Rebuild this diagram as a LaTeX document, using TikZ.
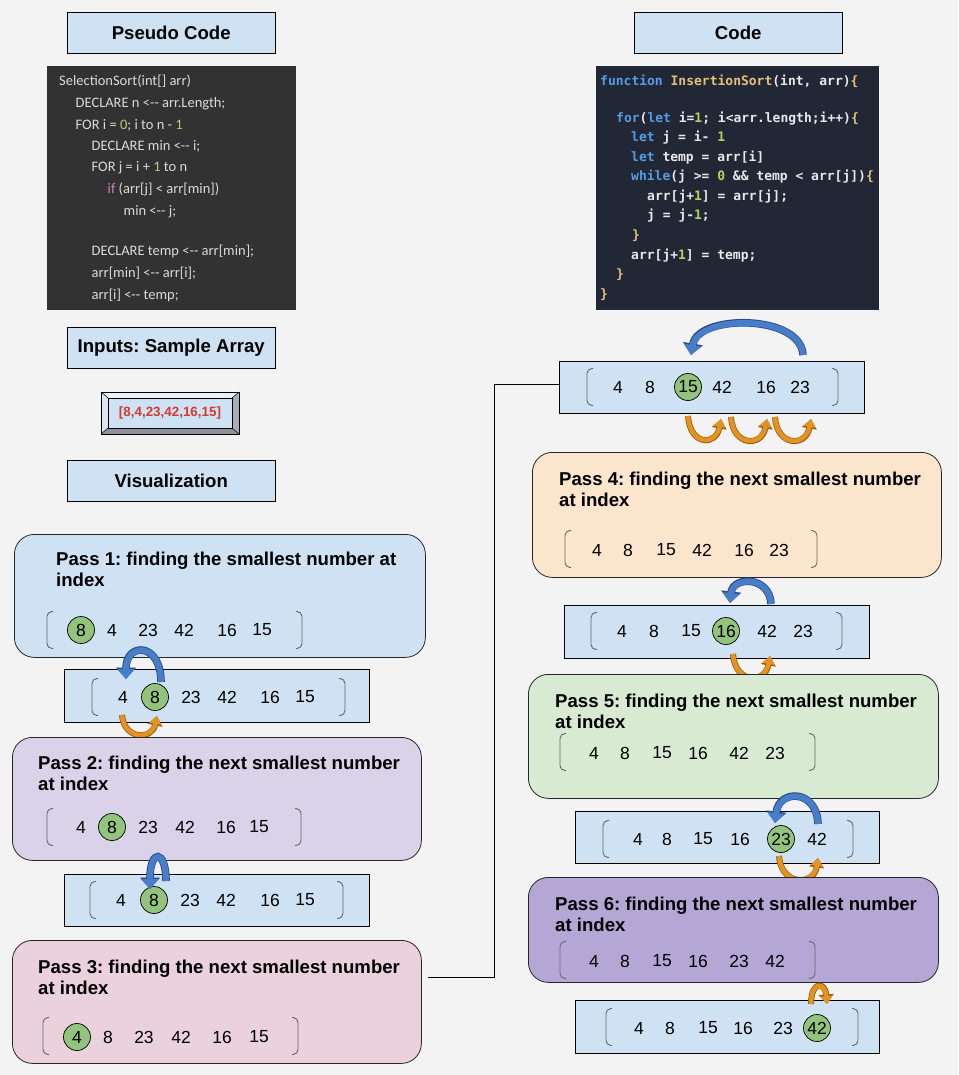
\documentclass[tikz,border=0pt]{standalone}
\usepackage{fontspec}
\setmainfont{Liberation Sans}
\newfontfamily\pseudofont{Carlito}
\newfontfamily\codefont{DejaVu Sans Mono}
\usetikzlibrary{arrows.meta}
\frenchspacing

\definecolor{bg}{RGB}{243,243,243}
\definecolor{tilefill}{RGB}{207,226,243}
\definecolor{lavfill}{RGB}{217,210,233}
\definecolor{pinkfill}{RGB}{234,209,220}
\definecolor{peachfill}{RGB}{252,229,205}
\definecolor{mintfill}{RGB}{217,234,211}
\definecolor{violetfill}{RGB}{180,167,214}
\definecolor{ballgreen}{RGB}{147,196,125}
\definecolor{arrblue}{RGB}{72,125,200}
\definecolor{arrblueD}{RGB}{40,75,135}
\definecolor{arrorange}{RGB}{228,146,32}
\definecolor{arrorangeD}{RGB}{150,90,15}
\definecolor{pseudobg}{RGB}{50,50,50}
\definecolor{pseudotext}{RGB}{218,218,218}
\definecolor{pseudonum}{RGB}{181,206,120}
\definecolor{pseudokw}{RGB}{197,134,192}
\definecolor{codebg}{RGB}{34,39,53}
\definecolor{codetext}{RGB}{232,232,236}
\definecolor{codekw}{RGB}{84,156,230}
\definecolor{codefn}{RGB}{229,192,123}
\definecolor{codenum}{RGB}{175,212,90}
\definecolor{samplered}{RGB}{212,58,48}
\definecolor{bevtop}{RGB}{236,241,247}
\definecolor{bevleft}{RGB}{220,229,238}
\definecolor{bevbottom}{RGB}{140,146,153}
\definecolor{bevright}{RGB}{168,174,181}

\newcommand\ckw[1]{\textcolor{codekw}{#1}}
\newcommand\cfn[1]{\textcolor{codefn}{#1}}
\newcommand\cnum[1]{\textcolor{codenum}{#1}}
\newcommand\pnum[1]{\textcolor{pseudonum}{#1}}
\newcommand\pkw[1]{\textcolor{pseudokw}{#1}}
\newcommand\larrow{<-\kern0pt-}

\tikzset{
  titlebox/.style={draw=black, fill=tilefill, minimum width=208pt, minimum height=41pt,
    anchor=north west, inner sep=0pt, font=\fontsize{18.6pt}{22pt}\selectfont\bfseries},
  passbox/.style={draw=black!85, line width=0.8pt, rounded corners=20pt, anchor=north west, inner sep=0pt},
  rowbox/.style={draw=black, line width=0.8pt, fill=tilefill, anchor=north west, inner sep=0pt},
  ptitle/.style={anchor=base west, inner sep=0pt, font=\fontsize{18.6pt}{22pt}\selectfont\bfseries},
  num/.style={inner sep=0pt, font=\fontsize{17.5pt}{20pt}\selectfont},
  ball/.style={circle, draw=black, line width=0.7pt, fill=ballgreen, minimum size=27pt, inner sep=0pt,
    font=\fontsize{17.5pt}{20pt}\selectfont},
  brk/.style={draw=black!60, line width=0.9pt, rounded corners=5pt},
  lbr/.pic={\draw[brk] (6,-18.5) -- (0,-18.5) -- (0,18.5) -- (6,18.5);},
  rbr/.pic={\draw[brk] (-6,-18.5) -- (0,-18.5) -- (0,18.5) -- (-6,18.5);},
  pcode/.style={anchor=base west, inner sep=0pt, text=pseudotext,
    font=\pseudofont\fontsize{14.5pt}{17pt}\selectfont},
  ccode/.style={anchor=base west, inner sep=0pt, text=codetext,
    font=\codefont\bfseries\fontsize{13pt}{16pt}\selectfont},
  barr/.style={draw=arrblue, line width=6pt, -{Triangle[width=17pt,length=10pt]},
    preaction={draw=arrblueD, line width=7.6pt, -{Triangle[width=19.5pt,length=11.5pt]}}},
  oarr/.style={draw=arrorange, line width=4.5pt, -{Triangle[width=12pt,length=8pt]},
    preaction={draw=arrorangeD, line width=6pt, -{Triangle[width=14.5pt,length=9.5pt]}}},
  conn/.style={draw=black, line width=0.8pt},
}

\begin{document}
\begin{tikzpicture}[x=1pt,y=-1pt]
  % canvas
  \fill[bg] (0,0) rectangle (958,1075);
  \useasboundingbox (0,0) rectangle (958,1075);

  % section titles
  \node[titlebox] (tpseudo) at (67,12) {Pseudo Code};
  \node[titlebox] (tcode) at (634,12) {Code};
  \node[titlebox] (tinputs) at (67,327) {Inputs: Sample Array};
  \node[titlebox] (tvis) at (67,460) {Visualization};

  % pseudo code panel
  \fill[pseudobg] (47,66) rectangle (296,310);
  \node[pcode] (ps1) at (59,85.5) {SelectionSort(int[] arr)};
  \node[pcode] (ps2) at (75.5,107.5) {DECLARE n \larrow{} arr.Length;};
  \node[pcode] (ps3) at (75.5,129.5) {FOR i = \pnum{0}; i to n - \pnum{1}};
  \node[pcode] (ps4) at (91.5,151) {DECLARE min \larrow{} i;};
  \node[pcode] (ps5) at (91.5,172) {FOR j = i + \pnum{1} to n};
  \node[pcode] (ps6) at (107.5,193.5) {\pkw{if} (arr[j] < arr[min])};
  \node[pcode] (ps7) at (123.5,215) {min \larrow{} j;};
  \node[pcode] (ps8) at (91.5,255.5) {DECLARE temp \larrow{} arr[min];};
  \node[pcode] (ps9) at (91.5,277) {arr[min] \larrow{} arr[i];};
  \node[pcode] (ps10) at (91.5,299.5) {arr[i] \larrow{} temp;};

  % code panel
  \fill[codebg] (596,66) rectangle (879,310);
  \node[ccode] (cd1) at (600,85.5) {\ckw{function} \cfn{InsertionSort}(int, arr)\cfn{\{}};
  \node[ccode] (cd2) at (616,122.3) {\ckw{for}(\ckw{let} i=\cnum{1}; i<arr.length;i++)\cfn{\{}};
  \node[ccode] (cd3) at (631,142) {\ckw{let} j = i- \cnum{1}};
  \node[ccode] (cd4) at (631,161.5) {\ckw{let} temp = arr[i]};
  \node[ccode] (cd5) at (631,181) {\ckw{while}(j >= \cnum{0} \&\& temp < arr[j])\cfn{\{}};
  \node[ccode] (cd6) at (647,200.5) {arr[j+\cnum{1}] = arr[j];};
  \node[ccode] (cd7) at (647,220) {j = j-\cnum{1};};
  \node[ccode] (cd8) at (632,239.5) {\cfn{\}}};
  \node[ccode] (cd9) at (631,259) {arr[j+\cnum{1}] = temp;};
  \node[ccode] (cd10) at (616,278.5) {\cfn{\}}};
  \node[ccode] (cd11) at (600,298) {\cfn{\}}};

  % sample array (bevelled button)
  \fill[bevtop] (101,392) -- (239,392) -- (232,398) -- (108,398) -- cycle;
  \fill[bevleft] (101,392) -- (108,398) -- (108,428) -- (101,434) -- cycle;
  \fill[bevbottom] (101,434) -- (108,428) -- (232,428) -- (239,434) -- cycle;
  \fill[bevright] (239,392) -- (239,434) -- (232,428) -- (232,398) -- cycle;
  \node[draw=black, line width=0.6pt, fill=tilefill, minimum width=124pt, minimum height=30pt,
    inner sep=0pt, text=samplered, font=\fontsize{13.4pt}{16pt}\selectfont\bfseries]
    (sample) at (170,413) {[8,4,23,42,16,15]};
  \draw[black, line width=0.6pt] (101,392) rectangle (239,434);
  \draw[black, line width=0.5pt] (101,392) -- (108,398) (239,392) -- (232,398)
    (101,434) -- (108,428) (239,434) -- (232,428);

  % ---------- left column ----------
  % pass 1
  \node[passbox, fill=tilefill, minimum width=411pt, minimum height=123pt] (p1) at (14,534) {};
  \node[ptitle] (p1a) at (56,565) {Pass 1: finding the smallest number at};
  \node[ptitle] (p1b) at (56,586.7) {index};
  \pic at (47,630) {lbr};
  \pic at (302,630) {rbr};
  \node[ball] (p1c) at (81,630) {8};
  \foreach \x/\v [count=\i] in {112/4,148/23,184/42,227/16,262/15}
    \node[num] (p1n\i) at (\x,630) {\v};

  % row after pass 1
  \node[rowbox, minimum width=305pt, minimum height=53pt] (b1) at (64,669) {};
  \pic at (92,697) {lbr};
  \pic at (345,697) {rbr};
  \node[ball] (b1c) at (155,697) {8};
  \foreach \x/\v [count=\i] in {123/4,191/23,227/42,270/16,305/15}
    \node[num] (b1n\i) at (\x,697) {\v};
  \draw[barr] (161,682) .. controls (161,642) and (126,642) .. (126,679);
  \draw[oarr] (122,715) .. controls (124,740) and (152,740) .. (157,716);

  % pass 2
  \node[passbox, fill=lavfill, minimum width=409pt, minimum height=123pt] (p2) at (12,737) {};
  \node[ptitle] (p2a) at (38,769) {Pass 2: finding the next smallest number};
  \node[ptitle] (p2b) at (38,790.7) {at index};
  \pic at (47,827) {lbr};
  \pic at (301,827) {rbr};
  \node[ball] (p2c) at (112,827) {8};
  \foreach \x/\v [count=\i] in {81/4,148/23,185/42,226/16,259/15}
    \node[num] (p2n\i) at (\x,827) {\v};

  % row after pass 2
  \node[rowbox, minimum width=305pt, minimum height=52pt] (b2) at (64,874) {};
  \pic at (90,900) {lbr};
  \pic at (343,900) {rbr};
  \node[ball] (b2c) at (154,900) {8};
  \foreach \x/\v [count=\i] in {121/4,190/23,226/42,270/16,305/15}
    \node[num] (b2n\i) at (\x,900) {\v};
  \draw[barr] (166,881) .. controls (166,849) and (150,849) .. (150,889);

  % pass 3
  \node[passbox, fill=pinkfill, minimum width=409pt, minimum height=123pt] (p3) at (12,940) {};
  \node[ptitle] (p3a) at (38,973) {Pass 3: finding the next smallest number};
  \node[ptitle] (p3b) at (38,994.7) {at index};
  \pic at (43,1036) {lbr};
  \pic at (298,1036) {rbr};
  \node[ball] (p3c) at (77,1037) {4};
  \foreach \x/\v [count=\i] in {108/8,144/23,181/42,222/16,259/15}
    \node[num] (p3n\i) at (\x,1037) {\v};

  % ---------- right column ----------
  % row before pass 4
  \node[rowbox, minimum width=305pt, minimum height=52pt] (r1) at (559,361) {};
  \pic at (587,387) {lbr};
  \pic at (838,387) {rbr};
  \node[ball] (r1c) at (688,387) {15};
  \foreach \x/\v [count=\i] in {618/4,650/8,722/42,766/16,800/23}
    \node[num] (r1n\i) at (\x,387) {\v};
  \draw[barr] (803,355) .. controls (801,314) and (698,314) .. (691,355);
  \draw[oarr] (688,416) .. controls (690,446) and (716,446) .. (721,419);
  \draw[oarr] (731,417) .. controls (733,447) and (762,447) .. (767,419);
  \draw[oarr] (775,417) .. controls (777,447) and (806,447) .. (811,419);

  % link from pass 3 to the right column
  \coordinate (p3out) at (428,977);
  \draw[conn] (p3out) -- (494,977) |- ([yshift=3.5pt]r1.west);

  % pass 4
  \node[passbox, fill=peachfill, minimum width=409pt, minimum height=125pt] (p4) at (532,452) {};
  \node[ptitle] (p4a) at (559,485) {Pass 4: finding the next smallest number};
  \node[ptitle] (p4b) at (559,506.7) {at index};
  \pic at (565,549) {lbr};
  \pic at (817,549) {rbr};
  \foreach \x/\v [count=\i] in {597/4,628/8,666/15,702/42,744/16,779/23}
    \node[num] (p4n\i) at (\x,550) {\v};

  % row after pass 4
  \node[rowbox, minimum width=305pt, minimum height=53pt] (r2) at (564,605) {};
  \pic at (591,631) {lbr};
  \pic at (842,631) {rbr};
  \node[ball] (r2c) at (726,631) {16};
  \foreach \x/\v [count=\i] in {622/4,654/8,691/15,767/42,803/23}
    \node[num] (r2n\i) at (\x,631) {\v};
  \draw[barr] (771,604) .. controls (770,576) and (733,576) .. (730,603);
  \draw[oarr] (733,654) .. controls (735,684) and (765,684) .. (770,656);

  % pass 5
  \node[passbox, fill=mintfill, minimum width=410pt, minimum height=124pt] (p5) at (528,674) {};
  \node[ptitle] (p5a) at (555,707) {Pass 5: finding the next smallest number};
  \node[ptitle] (p5b) at (555,728.7) {at index};
  \pic at (560,752) {lbr};
  \pic at (815,752) {rbr};
  \foreach \x/\v [count=\i] in {594/4,625/8,662/15,698/16,739/42,775/23}
    \node[num] (p5n\i) at (\x,753) {\v};

  % row after pass 5
  \node[rowbox, minimum width=304pt, minimum height=52pt] (r3) at (575,811) {};
  \pic at (603,839) {lbr};
  \pic at (853,839) {rbr};
  \node[ball] (r3c) at (781,839) {23};
  \foreach \x/\v [count=\i] in {638/4,667/8,703/15,740/16,817/42}
    \node[num] (r3n\i) at (\x,839) {\v};
  \draw[barr] (818,824) .. controls (817,789) and (779,789) .. (775,823);
  \draw[oarr] (779,856) .. controls (781,886) and (814,886) .. (818,858);

  % pass 6
  \node[passbox, fill=violetfill, minimum width=410pt, minimum height=105pt] (p6) at (528,877) {};
  \node[ptitle] (p6a) at (555,910) {Pass 6: finding the next smallest number};
  \node[ptitle] (p6b) at (555,931.7) {at index};
  \pic at (560,960) {lbr};
  \pic at (815,960) {rbr};
  \foreach \x/\v [count=\i] in {594/4,625/8,662/15,698/16,739/23,775/42}
    \node[num] (p6n\i) at (\x,961) {\v};

  % final row
  \node[rowbox, minimum width=304pt, minimum height=53pt] (r4) at (575,1000) {};
  \pic at (606,1027) {lbr};
  \pic at (858,1027) {rbr};
  \node[ball] (r4c) at (817,1028) {42};
  \foreach \x/\v [count=\i] in {639/4,670/8,708/15,743/16,783/23}
    \node[num] (r4n\i) at (\x,1028) {\v};
  \draw[oarr] (811,1004) .. controls (811,981) and (825,981) .. (827,1004);
\end{tikzpicture}
\end{document}
